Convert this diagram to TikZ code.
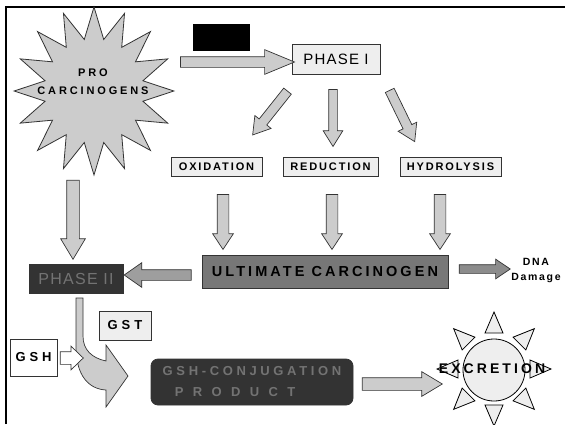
\documentclass[tikz,border=0pt]{standalone}
\usepackage{fontspec}
\setmainfont{Liberation Sans}
\usetikzlibrary{shapes.geometric,shapes.arrows}

\definecolor{burstgray}{HTML}{CCCCCC}
\definecolor{palegray}{HTML}{EEEEEE}
\definecolor{midgray}{HTML}{777777}
\definecolor{darkgray}{HTML}{333333}
\definecolor{dimtext}{HTML}{737373}

\tikzset{
  box/.style={draw=black!80, fill=palegray, line width=.8pt, inner sep=0pt},
  blk/.style args={#1/#2/#3/#4}{single arrow, draw=black!80, fill=burstgray,
    line width=.7pt, inner xsep=0pt, minimum height=#1pt, inner ysep=#2pt,
    single arrow head extend=#3pt, single arrow tip angle=#4},
  tag/.style={font=\fontsize{11}{13}\selectfont\bfseries\addfontfeature{LetterSpace=17}},
  ray/.style={draw=black, fill=palegray, line width=.8pt},
}

\begin{document}
\begin{tikzpicture}[x=1pt,y=-1pt]
  \useasboundingbox (0,0) rectangle (565,424);
  % Frame
  \draw[line width=2pt] (6,424) -- (6,7) -- (565,7);

  % Pro carcinogens
  \node[star, star points=16, star point ratio=1.6, minimum size=168pt, xscale=.95,
        draw=black!80, fill=burstgray, line width=.8pt, inner sep=0pt] (burst) at (94,91) {};
  \node[align=center, font=\fontsize{11}{18}\selectfont\bfseries\addfontfeature{LetterSpace=26}]
        (burst-text) at (93,82) {PRO\\CARCINOGENS};

  % Phase I
  \node[fill=black, minimum width=57pt, minimum height=27pt] (mask) at (221.5,37.5) {};
  \node[box, minimum width=88pt, minimum height=30pt,
        font=\fontsize{15}{17}\selectfont\addfontfeature{LetterSpace=8}] (phase1) at (336,59) {PHASE I};
  \node[blk=114/5/7/45] (a-phase1) at (231,62) {};

  \node[box, tag, minimum width=91pt, minimum height=19pt] (oxid) at (216.5,166.5) {OXIDATION};
  \node[box, tag, minimum width=95pt, minimum height=19pt] (reduc) at (330.5,166.5) {REDUCTION};
  \node[box, tag, minimum width=101pt, minimum height=19pt] (hydro) at (450.5,166.5) {HYDROLYSIS};

  \node[blk=56/4.5/5.5/64, rotate=231.5] (a-oxid) at (272.5,110) {};
  \node[blk=57/4/5.5/64, rotate=-90] (a-reduc) at (333,114.5) {};
  \node[blk=57/4.5/5.5/64, rotate=-64] (a-hydro) at (400.5,112.5) {};

  % Ultimate carcinogen
  \node[box, fill=midgray, minimum width=246pt, minimum height=33pt,
        font=\fontsize{14.5}{16}\selectfont\bfseries\addfontfeature{LetterSpace=21}] (ultimate) at (325,271.5) {ULTIMATE CARCINOGEN};
  \foreach \x/\n in {223/oxid, 332/reduc, 440/hydro}
    \node[blk=55/5.5/4.5/67, rotate=-90] (b-\n) at (\x,217.5) {};

  \node[blk=51/4/5.5/68, fill=black!45] (a-dna) at (481.5,269) {};
  \node[align=center, font=\fontsize{10.5}{15}\selectfont\bfseries\addfontfeature{LetterSpace=16}]
        (dna) at (536,270) {DNA\\Damage};

  % Phase II
  \node[box, fill=darkgray, text=dimtext, minimum width=94pt, minimum height=29pt,
        font=\fontsize{16}{18}\selectfont\addfontfeature{LetterSpace=8}] (phase2) at (76,278.5) {PHASE II};
  \node[blk=79/6/6/62, rotate=-90] (a-burst) at (73,214.5) {};
  \node[blk=67/5/7/70, rotate=180, fill=black!38] (a-phase2) at (161.5,275) {};

  % Conjugation
  \draw[draw=black!80, fill=burstgray, line width=.7pt] (76,298) -- (76,350)
    .. controls (77,375) and (88,389) .. (106,390) -- (106,407) -- (128,376) -- (106,345)
    -- (106,361) .. controls (92,358) and (83,350) .. (83,336) -- (83,298) -- cycle;
  \node[box, minimum width=52pt, minimum height=29pt,
        font=\fontsize{13}{15}\selectfont\bfseries\addfontfeature{LetterSpace=30}] (gst) at (125,325.5) {GST};
  \node[box, fill=white, minimum width=47pt, minimum height=37pt,
        font=\fontsize{13}{15}\selectfont\bfseries\addfontfeature{LetterSpace=30}] (gsh) at (33.5,357.5) {GSH};
  \node[blk=23/6/5.5/88, fill=white] (a-gsh) at (68.5,358) {};

  \node[box, fill=darkgray, text=dimtext, rounded corners=7pt, minimum width=202pt, minimum height=46pt,
        align=center, font=\fontsize{13}{21}\selectfont\bfseries\addfontfeature{LetterSpace=28}]
        (conj) at (252,382) {GSH-CONJUGATION\\\addfontfeature{LetterSpace=72}PRODUCT\hspace*{34pt}};

  % Excretion
  \node[blk=80/6/6/62] (a-conj) at (397,384) {};
  \begin{scope}[shift={(494,369)}]
    \foreach \a in {0,45,...,315}
      \draw[ray, rotate=\a] (57,0) -- (36,9) -- (36,-9) -- cycle;
  \end{scope}
  \node[circle, ray, minimum size=62pt, inner sep=0pt] (sun) at (494,370) {};
  \node[font=\fontsize{14}{16}\selectfont\bfseries\addfontfeature{LetterSpace=22}] (excretion) at (492,369) {EXCRETION};
\end{tikzpicture}
\end{document}
